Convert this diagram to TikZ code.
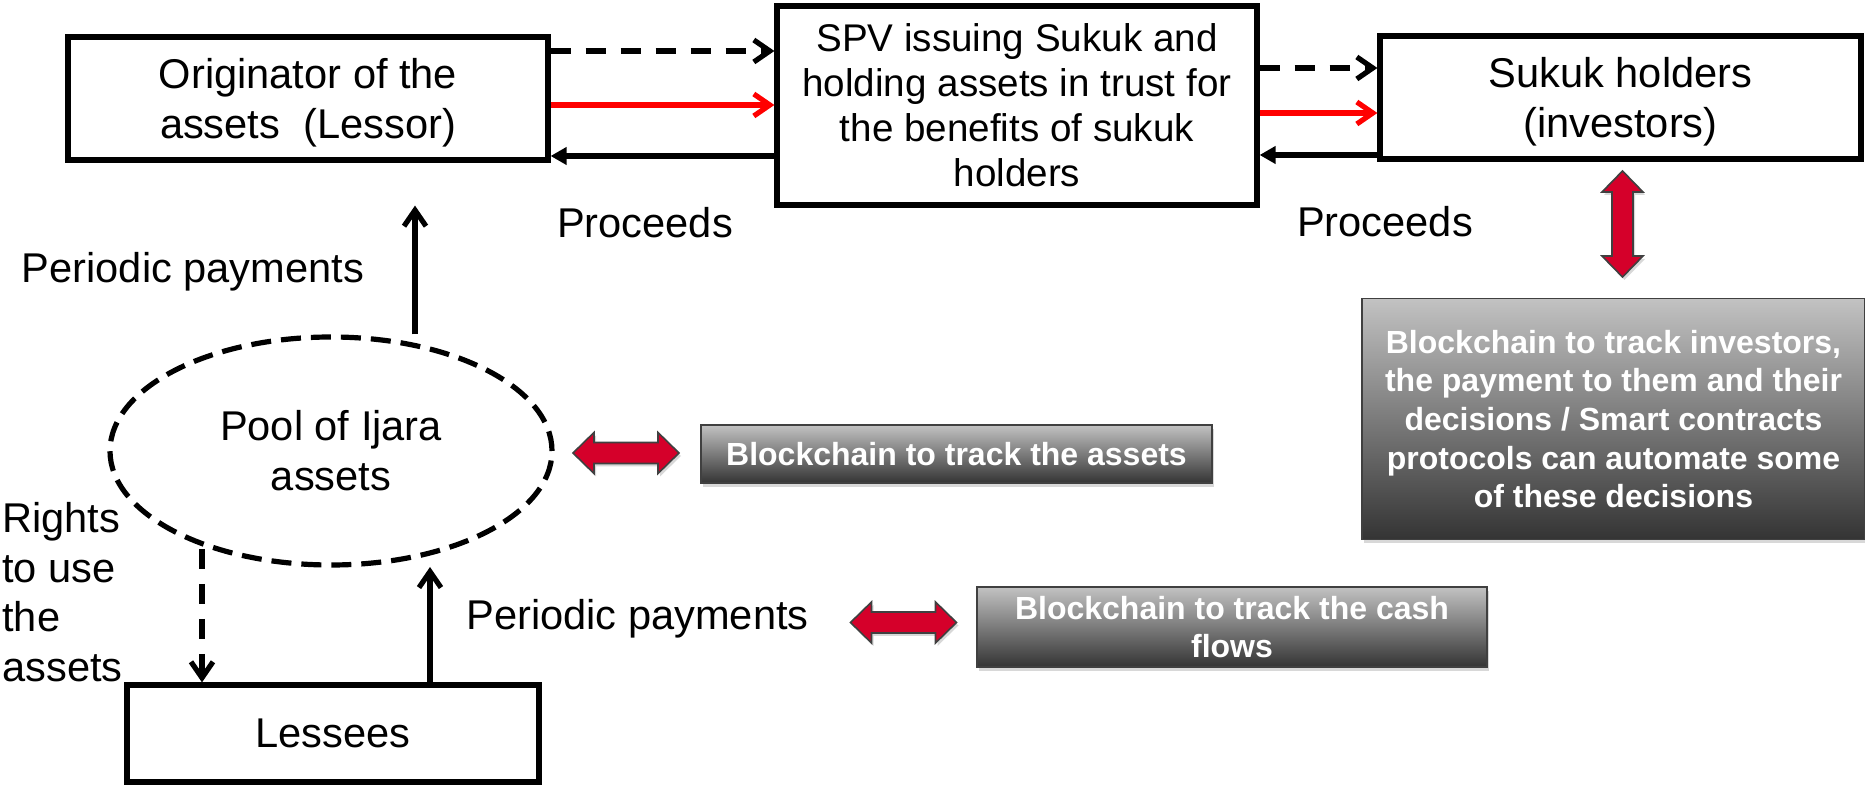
\documentclass[tikz,border=0pt]{standalone}
\usepackage{fontspec}
\setmainfont{Liberation Sans}
\usetikzlibrary{arrows.meta,shapes.geometric,shadows}

\definecolor{arrowred}{RGB}{213,0,42}
\definecolor{gtop}{RGB}{194,194,194}
\definecolor{gbot}{RGB}{52,52,52}
\definecolor{gborder}{RGB}{64,64,64}

\begin{document}
\begin{tikzpicture}[x=0.5pt,y=-0.5pt,
  box/.style={draw, line width=2.6pt, rectangle, inner sep=0pt, align=center,
    font=\fontsize{20.8}{25}\selectfont},
  lbl/.style={inner sep=0pt, font=\fontsize{20.8}{25}\selectfont},
  gbox/.style={draw=gborder, line width=0.8pt, top color=gtop, bottom color=gbot,
    inner sep=0pt, align=center, text=white,
    font=\fontsize{16}{19.3}\selectfont\bfseries,
    drop shadow={shadow xshift=1.2pt, shadow yshift=-1.8pt, opacity=0.3}},
  arr/.style={line width=2.6pt, -{Straight Barb[length=8pt,width=11pt]}},
  dsh/.style={dash pattern=on 10pt off 7.5pt},
  barr/.style={line width=2.6pt, -{Triangle[length=8pt,width=8.5pt]}},
  redarr/.style={fill=arrowred, draw=gborder, line width=0.8pt, line join=miter,
    drop shadow={shadow xshift=1pt, shadow yshift=-1.5pt, opacity=0.3}},
  dblarr/.pic={\path[redarr] (-53,0) -- (-32,-20.5) -- (-32,-10.5) -- (32,-10.5)
    -- (32,-20.5) -- (53,0) -- (32,20.5) -- (32,10.5) -- (-32,10.5) -- (-32,20.5) -- cycle;}
]
\fill[white] (0,0) rectangle (1865,785);
\useasboundingbox (0,0) rectangle (1865,785);

% main boxes
\node[box, minimum width=240pt, minimum height=61.5pt] (orig) at (308,98.5)
  {\rule{0pt}{19pt}Originator of the\\assets\ \ (Lessor)};
\node[box, minimum width=240pt, minimum height=99.5pt,
  font=\fontsize{19.3}{22.5}\selectfont] (spv) at (1017,105.5)
  {SPV issuing Sukuk and\\holding assets in trust for\\the benefits of sukuk\\holders};
\node[box, minimum width=240.5pt, minimum height=61.5pt] (sukuk) at (1620.5,97.5)
  {\rule{0pt}{19pt}Sukuk holders\\(investors)};
\node[box, ellipse, dash pattern=on 10pt off 5pt, minimum width=221pt, minimum height=114pt]
  (pool) at (331,451) {Pool of Ijara\\assets};
\node[box, minimum width=206pt, minimum height=48.5pt] (les) at (333,733.5) {Lessees};

% grey blockchain boxes
\node[gbox, minimum width=255.5pt, minimum height=29pt] (g1) at (956.5,454)
  {Blockchain to track the assets};
\node[gbox, minimum width=255pt, minimum height=40pt] (g2) at (1232,627)
  {Blockchain to track the cash\\flows};
\node[gbox, minimum width=251.5pt, minimum height=120.5pt] (g3) at (1613.5,419)
  {Blockchain to track investors,\\the payment to them and their\\decisions / Smart contracts\\protocols can automate some\\of these decisions};

% labels
\node[lbl, anchor=base] (proc1) at (645,238) {Proceeds};
\node[lbl, anchor=base] (proc2) at (1385,237) {Proceeds};
\node[lbl, anchor=base] (pp1) at (193,283) {Periodic payments};
\node[lbl, anchor=base west] (pp2) at (466,630) {Periodic payments};
\node[lbl, anchor=north west, align=left, font=\fontsize{20.8}{24.8}\selectfont]
  (rights) at (2,502) {Rights\\to use\\the\\assets};

% top connectors
\coordinate (yA) at (0,51);
\coordinate (yB) at (0,105);
\coordinate (yC) at (0,156);
\coordinate (yD) at (0,68);
\coordinate (yE) at (0,113);
\coordinate (yF) at (0,155);
\draw[arr,dsh] (orig.east |- yA) -- (spv.west |- yA);
\draw[arr,red] (orig.east |- yB) -- (spv.west |- yB);
\draw[barr] (spv.west |- yC) -- (orig.east |- yC);
\draw[arr,dsh] (spv.east |- yD) -- (sukuk.west |- yD);
\draw[arr,red] (spv.east |- yE) -- (sukuk.west |- yE);
\draw[barr] (sukuk.west |- yF) -- (spv.east |- yF);

% vertical connectors
\coordinate (xA) at (415,0);
\draw[arr, shorten >=21.5pt] (pool.north -| xA) -- (orig.south -| xA);
\coordinate (xD) at (202,549);
\draw[arr,dsh] (xD) -- (xD |- les.north);
\coordinate (xU) at (430,567);
\draw[arr] (xU |- les.north) -- (xU);

% red double arrows
\pic at (626,453) {dblarr};
\pic at (903.5,622.5) {dblarr};
\pic[rotate=90] at (1622.5,224) {dblarr};
\end{tikzpicture}
\end{document}
